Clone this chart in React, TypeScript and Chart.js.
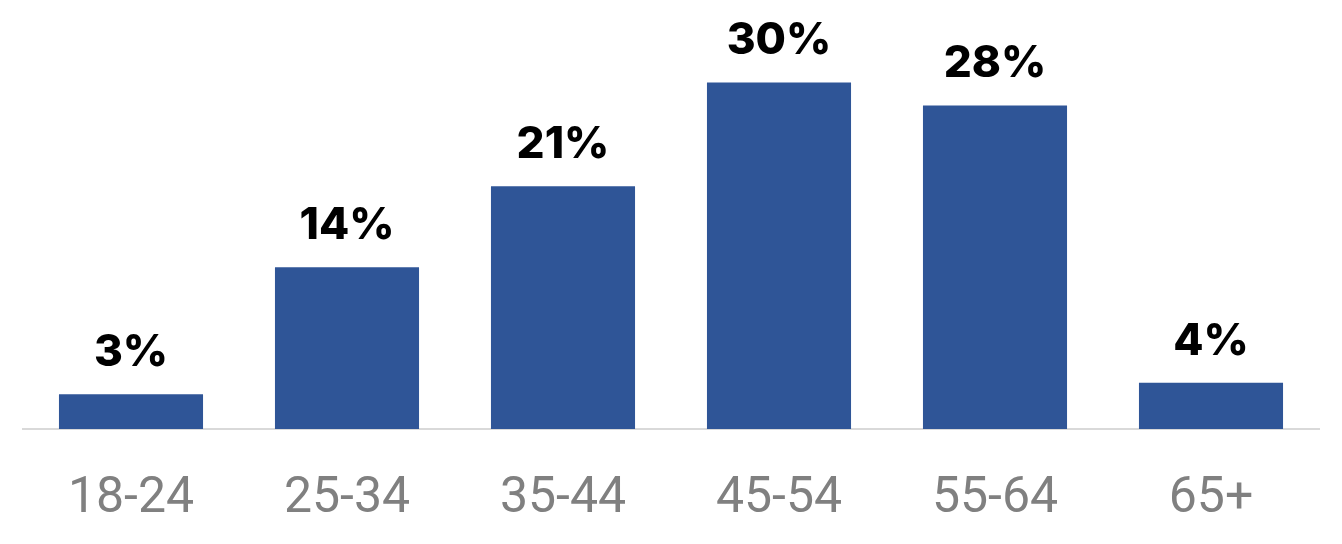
import React, { useEffect, useRef } from "react";
import { Chart, registerables } from "chart.js";

Chart.register(...registerables);

const categories = ["18-24", "25-34", "35-44", "45-54", "55-64", "65+"];
const values = [3, 14, 21, 30, 28, 4];
const valueLabels = ["3%", "14%", "21%", "30%", "28%", "4%"];

const labelPlugin = {
  id: "valueLabels",
  afterDatasetsDraw(chart: any) {
    const ctx = chart.ctx;
    const meta = chart.getDatasetMeta(0);
    ctx.save();
    ctx.font = "800 44px Inter";
    ctx.fillStyle = "#000000";
    ctx.textAlign = "center";
    ctx.textBaseline = "alphabetic";
    meta.data.forEach((bar: any, i: number) => {
      ctx.fillText(valueLabels[i], bar.x, bar.y - 28);
    });
    ctx.restore();
  },
};

export default function App() {
  const ref = useRef<HTMLCanvasElement | null>(null);
  useEffect(() => {
    document.body.style.margin = "0";
    const chart = new Chart(ref.current as HTMLCanvasElement, {
      type: "bar",
      data: {
        labels: categories,
        datasets: [
          {
            data: values,
            backgroundColor: "#2f5597",
            barPercentage: 0.667,
            categoryPercentage: 1,
          },
        ],
      },
      options: {
        animation: false,
        responsive: false,
        devicePixelRatio: 1,
        layout: { padding: { left: 23, right: 23, top: 0, bottom: -25 } },
        plugins: { legend: { display: false }, tooltip: { enabled: false } },
        scales: {
          x: {
            grid: { display: false, drawTicks: false },
            border: { display: true, color: "#d9d9d9", width: 2 },
            ticks: {
              color: "#808080",
              font: { family: "Roboto", size: 50 },
              padding: 40,
            },
          },
          y: {
            display: false,
            min: 0,
            max: 37.13,
          },
        },
      },
      plugins: [labelPlugin],
    });
    return () => chart.destroy();
  }, []);
  return (
    <div style={{ width: 1342, height: 544 }}>
      <canvas ref={ref} width={1342} height={544} style={{ display: "block" }} />
    </div>
  );
}
